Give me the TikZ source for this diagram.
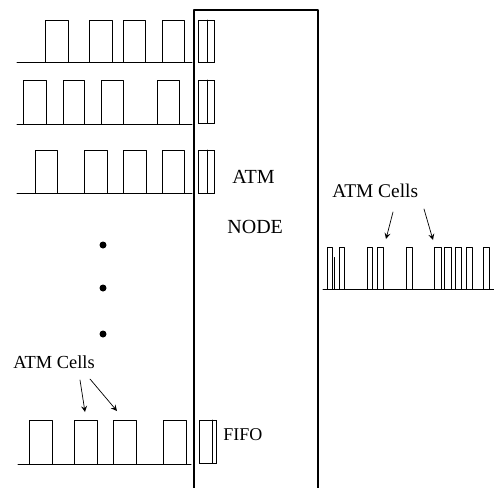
\documentclass[tikz,border=0pt]{standalone}
\usepackage{fontspec}
\setmainfont{Liberation Serif}
\usetikzlibrary{arrows}

\tikzset{
  cell/.style={line width=0.5pt},
  fifo/.style={line width=0.5pt},
  lbl/.style={inner sep=0pt,anchor=base west},
  pointer/.style={->,line width=0.35pt},
}
% open cell: left side, top, right side
\newcommand{\atmcell}[4]{\draw[cell] (#1,#4) |- (#2,#3) -- (#2,#4);}

\begin{document}
\begin{tikzpicture}[line cap=round,line join=round,>=stealth,x=0.5pt,y=-0.5pt]
\useasboundingbox (0,0) rectangle (494,488);

% node box
\draw[line width=0.55pt] (194,488) -- (194,10) -- (318,10) -- (318,488);

% input line 1
\draw[cell] (17,62) -- (192,62);
\foreach \a/\b in {45/68,89/112,123/145,162/184}
  \atmcell{\a}{\b}{20}{62}
\draw[fifo] (198,20) rectangle (214,62);
\draw[fifo] (207,20) -- (207,62);

% input line 2
\draw[cell] (17,124) -- (192,124);
\foreach \a/\b in {23/46,63/84,101/123,157/179}
  \atmcell{\a}{\b}{80}{124}
\draw[fifo] (198,80) rectangle (214,123);
\draw[fifo] (207,80) -- (207,123);

% input line 3
\draw[cell] (17,193) -- (192,193);
\foreach \a/\b in {35/57,84/107,123/146,162/184}
  \atmcell{\a}{\b}{150}{193}
\draw[fifo] (198,150) rectangle (214,193);
\draw[fifo] (207,150) -- (207,193);

% dots
\foreach \y in {245,288,334}
  \fill (103,\y) circle (3.5);

% input line n
\draw[cell] (18,464) -- (191,464);
\foreach \a/\b in {29/52,74/97,113/136,163/186}
  \atmcell{\a}{\b}{420}{464}
\draw[fifo] (199,420) rectangle (216,463);
\draw[fifo] (212,420) -- (212,463);

% output line
\draw[cell] (323,289) -- (494,289);
\foreach \a/\b in {327/332,339/344,367/372,377/383,406/412,434/441,444/451,455/461,466/472,483/489}
  \atmcell{\a}{\b}{247}{289}
\draw[cell] (334,258) -- (334,289);

% labels
\node[lbl,font=\fontsize{10}{12}\selectfont] (atm) at (232,183) {ATM};
\node[lbl,font=\fontsize{10}{12}\selectfont] (node) at (227,233) {NODE};
\node[lbl,font=\fontsize{9}{11}\selectfont] (fifo) at (223,440) {FIFO};
\node[lbl,font=\fontsize{9.7}{11}\selectfont] (cellsout) at (332,197) {ATM Cells};
\node[lbl,font=\fontsize{9.2}{11}\selectfont] (cellsin) at (13,368) {ATM Cells};

% arrows
\coordinate (o1s) at (393,212);
\coordinate (o1e) at (386,239);
\coordinate (o2s) at (424,209);
\coordinate (o2e) at (433,240);
\coordinate (i1s) at (80,380);
\coordinate (i1e) at (85,412);
\coordinate (i2s) at (90,379);
\coordinate (i2e) at (117,411);
\draw[pointer] (o1s) -- (o1e);
\draw[pointer] (o2s) -- (o2e);
\draw[pointer] (i1s) -- (i1e);
\draw[pointer] (i2s) -- (i2e);
\end{tikzpicture}
\end{document}
